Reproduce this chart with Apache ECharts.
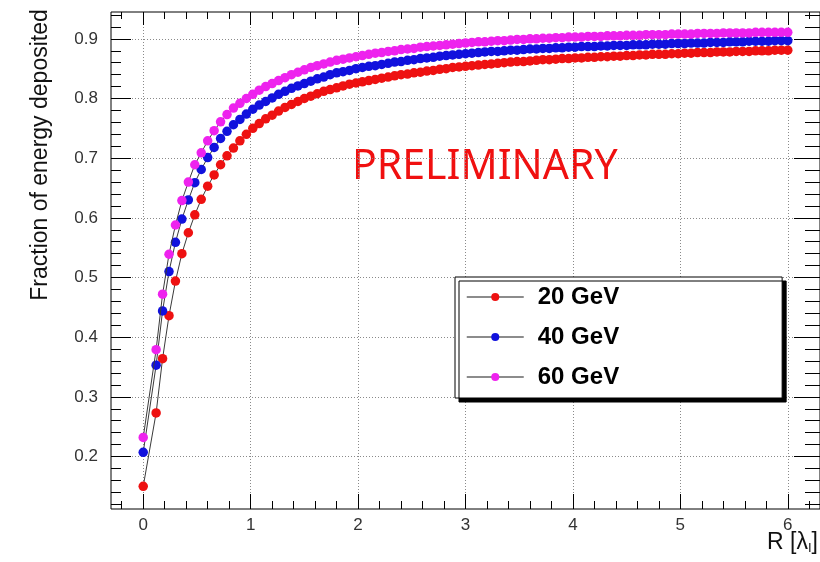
<!DOCTYPE html>
<html>
<head>
<meta charset="utf-8">
<script src="https://cdn.jsdelivr.net/npm/echarts@6/dist/echarts.min.js"></script>
<style>
  html, body { margin: 0; padding: 0; background: #fff; overflow: hidden; }
  #chart { width: 820px; height: 562px; }
</style>
</head>
<body>
<div id="chart"></div>
<script>
// Radius R in units of interaction length
const radius = [
  0.00, 0.12, 0.18, 0.24, 0.30, 0.36, 0.42, 0.48, 0.54, 0.60,
  0.66, 0.72, 0.78, 0.84, 0.90, 0.96, 1.02, 1.08, 1.14, 1.20,
  1.26, 1.32, 1.38, 1.44, 1.50, 1.56, 1.62, 1.68, 1.74, 1.80,
  1.86, 1.92, 1.98, 2.04, 2.10, 2.16, 2.22, 2.28, 2.34, 2.40,
  2.46, 2.52, 2.58, 2.64, 2.70, 2.76, 2.82, 2.88, 2.94, 3.00,
  3.06, 3.12, 3.18, 3.24, 3.30, 3.36, 3.42, 3.48, 3.54, 3.60,
  3.66, 3.72, 3.78, 3.84, 3.90, 3.96, 4.02, 4.08, 4.14, 4.20,
  4.26, 4.32, 4.38, 4.44, 4.50, 4.56, 4.62, 4.68, 4.74, 4.80,
  4.86, 4.92, 4.98, 5.04, 5.10, 5.16, 5.22, 5.28, 5.34, 5.40,
  5.46, 5.52, 5.58, 5.64, 5.70, 5.76, 5.82, 5.88, 5.94, 6.00
];

// Fraction of energy deposited within R, 20 GeV
const frac20 = [
  0.150, 0.273, 0.364, 0.436, 0.494, 0.540, 0.575, 0.605, 0.631, 0.653,
  0.672, 0.689, 0.704, 0.717, 0.729, 0.740, 0.750, 0.758, 0.766, 0.772,
  0.779, 0.785, 0.790, 0.795, 0.800, 0.804, 0.808, 0.812, 0.815, 0.818,
  0.821, 0.824, 0.826, 0.828, 0.830, 0.832, 0.834, 0.836, 0.838, 0.840,
  0.841, 0.843, 0.844, 0.846, 0.847, 0.849, 0.850, 0.852, 0.853, 0.854,
  0.855, 0.856, 0.857, 0.858, 0.859, 0.860, 0.861, 0.862, 0.862, 0.863,
  0.864, 0.865, 0.865, 0.866, 0.867, 0.867, 0.868, 0.868, 0.869, 0.869,
  0.870, 0.870, 0.871, 0.871, 0.872, 0.872, 0.873, 0.873, 0.874, 0.874,
  0.874, 0.875, 0.875, 0.876, 0.876, 0.877, 0.877, 0.877, 0.878, 0.878,
  0.878, 0.879, 0.879, 0.879, 0.880, 0.880, 0.880, 0.881, 0.881, 0.881
];

// 40 GeV
const frac40 = [
  0.207, 0.353, 0.444, 0.510, 0.559, 0.598, 0.630, 0.659, 0.681, 0.701,
  0.718, 0.733, 0.745, 0.756, 0.765, 0.774, 0.782, 0.789, 0.795, 0.801,
  0.807, 0.812, 0.817, 0.821, 0.825, 0.829, 0.833, 0.836, 0.840, 0.843,
  0.845, 0.847, 0.850, 0.852, 0.854, 0.855, 0.857, 0.859, 0.861, 0.862,
  0.864, 0.865, 0.867, 0.868, 0.869, 0.871, 0.872, 0.873, 0.874, 0.875,
  0.876, 0.877, 0.878, 0.879, 0.879, 0.880, 0.881, 0.881, 0.882, 0.883,
  0.883, 0.884, 0.884, 0.885, 0.885, 0.886, 0.886, 0.887, 0.887, 0.887,
  0.888, 0.888, 0.889, 0.889, 0.889, 0.890, 0.890, 0.890, 0.891, 0.891,
  0.891, 0.892, 0.892, 0.892, 0.893, 0.893, 0.893, 0.894, 0.894, 0.894,
  0.895, 0.895, 0.895, 0.896, 0.896, 0.896, 0.896, 0.897, 0.897, 0.897
];

// 60 GeV
const frac60 = [
  0.232, 0.379, 0.472, 0.539, 0.588, 0.629, 0.660, 0.689, 0.709, 0.729,
  0.746, 0.761, 0.773, 0.784, 0.792, 0.800, 0.807, 0.814, 0.820, 0.825,
  0.830, 0.835, 0.840, 0.844, 0.848, 0.852, 0.855, 0.858, 0.861, 0.864,
  0.866, 0.868, 0.870, 0.872, 0.874, 0.876, 0.877, 0.879, 0.880, 0.882,
  0.883, 0.884, 0.886, 0.887, 0.888, 0.889, 0.890, 0.891, 0.892, 0.893,
  0.894, 0.895, 0.895, 0.896, 0.897, 0.897, 0.898, 0.899, 0.899, 0.900,
  0.900, 0.901, 0.901, 0.902, 0.902, 0.903, 0.903, 0.903, 0.904, 0.904,
  0.904, 0.905, 0.905, 0.905, 0.906, 0.906, 0.906, 0.907, 0.907, 0.907,
  0.907, 0.908, 0.908, 0.908, 0.908, 0.909, 0.909, 0.909, 0.909, 0.910,
  0.910, 0.910, 0.910, 0.910, 0.911, 0.911, 0.911, 0.911, 0.911, 0.911
];

const seriesNames = ['20 GeV', '40 GeV', '60 GeV'];
const seriesColors = ['#ee1111', '#1111dd', '#ee22ee'];

// Axis tick positions
const xMajorTicks = [0, 1, 2, 3, 4, 5, 6];
const xMinorTicks = [-0.2, 0.2, 0.4, 0.6, 0.8, 1.2, 1.4, 1.6, 1.8, 2.2, 2.4, 2.6, 2.8,
  3.2, 3.4, 3.6, 3.8, 4.2, 4.4, 4.6, 4.8, 5.2, 5.4, 5.6, 5.8, 6.2];
const yMajorTicks = [0.2, 0.3, 0.4, 0.5, 0.6, 0.7, 0.8, 0.9];
const yMinorTicks = [0.12, 0.14, 0.16, 0.18, 0.22, 0.24, 0.26, 0.28, 0.32, 0.34, 0.36, 0.38,
  0.42, 0.44, 0.46, 0.48, 0.52, 0.54, 0.56, 0.58, 0.62, 0.64, 0.66, 0.68,
  0.72, 0.74, 0.76, 0.78, 0.82, 0.84, 0.86, 0.88, 0.92, 0.94];

const X_MIN = -0.3, X_MAX = 6.3;
const Y_MIN = 0.112, Y_MAX = 0.945;

const FONT = '"Liberation Sans", Arial, Helvetica, sans-serif';
const gridLine = { show: true, lineStyle: { color: '#8a8a8a', width: 1, type: [1, 2] } };

function xAxisDef(position, ticks, len, withLabels, withGrid) {
  return {
    type: 'value', position: position, offset: 0, min: X_MIN, max: X_MAX,
    axisLine: { show: false, onZero: false },
    axisTick: { show: true, inside: true, length: len, customValues: ticks,
      lineStyle: { color: '#000', width: 1 } },
    axisLabel: withLabels ? { show: true, customValues: ticks, margin: 8,
      fontSize: 17, fontFamily: FONT, color: '#333', formatter: v => String(v) } : { show: false },
    splitLine: withGrid ? gridLine : { show: false }
  };
}
function yAxisDef(position, ticks, len, withLabels, withGrid) {
  return {
    type: 'value', position: position, offset: 0, min: Y_MIN, max: Y_MAX,
    axisLine: { show: false, onZero: false },
    axisTick: { show: true, inside: true, length: len, customValues: ticks,
      lineStyle: { color: '#000', width: 1 } },
    axisLabel: withLabels ? { show: true, customValues: ticks, margin: 13,
      fontSize: 17, fontFamily: FONT, color: '#333', formatter: v => v.toFixed(1) } : { show: false },
    splitLine: withGrid ? gridLine : { show: false }
  };
}

const chart = echarts.init(document.getElementById('chart'), null, { renderer: 'canvas' });

const series = seriesNames.map((name, i) => ({
  name: name,
  type: 'line',
  xAxisIndex: 0,
  yAxisIndex: 0,
  data: radius.map((r, k) => [r, [frac20, frac40, frac60][i][k]]),
  symbol: 'circle',
  symbolSize: 9.5,
  showAllSymbol: true,
  itemStyle: { color: seriesColors[i] },
  lineStyle: { color: '#3a3a3a', width: 1 },
  animation: false,
  z: 3 + i
}));

chart.setOption({
  animation: false,
  backgroundColor: '#fff',
  // the frame's right edge sits just past the canvas edge
  grid: {
    left: 111, top: 12, width: 712, height: 497,
    show: true, borderColor: '#000', borderWidth: 1, backgroundColor: 'transparent'
  },
  xAxis: [
    xAxisDef('bottom', xMajorTicks, 15, true, true),
    xAxisDef('bottom', xMinorTicks, 8, false, false),
    xAxisDef('top', xMajorTicks, 13, false, false),
    xAxisDef('top', xMinorTicks, 7, false, false)
  ],
  yAxis: [
    yAxisDef('left', yMajorTicks, 20, true, true),
    yAxisDef('left', yMinorTicks, 10, false, false),
    yAxisDef('right', yMajorTicks, 26, false, false),
    yAxisDef('right', yMinorTicks, 15, false, false)
  ],
  legend: {
    orient: 'vertical',
    left: 455, top: 277,
    data: seriesNames,
    selectedMode: false,
    itemWidth: 57, itemHeight: 10, itemGap: 16,
    padding: [8, 163, 9, 11],
    backgroundColor: '#fff',
    borderColor: '#000', borderWidth: 1,
    shadowColor: '#000', shadowBlur: 0, shadowOffsetX: 4, shadowOffsetY: 4,
    lineStyle: { color: '#666', width: 1.5 },
    textStyle: { fontSize: 24, fontWeight: 'bold', fontFamily: FONT, color: '#000',
      lineHeight: 24, padding: [0, 0, 0, 9] }
  },
  graphic: [
    {
      type: 'text', left: 352, top: 147, silent: true,
      style: { text: 'PRELIMINARY', fill: '#f01010', fontSize: 41,
        fontFamily: '"Noto Sans", sans-serif', fontWeight: 'normal' }
    },
    {
      type: 'text', x: 41, y: 155, rotation: Math.PI / 2, silent: true,
      style: { text: 'Fraction of energy deposited', fill: '#111', fontSize: 23,
        fontFamily: FONT, align: 'center', verticalAlign: 'middle' }
    },
    {
      type: 'text', right: 2, top: 531, silent: true,
      style: {
        text: '{a|R [λ}{b|I}{a|]}', fill: '#111',
        rich: {
          a: { fontSize: 23, fontFamily: FONT, fill: '#111' },
          b: { fontSize: 13, fontFamily: FONT, fill: '#111', padding: [12, 0, 0, 0] }
        }
      }
    }
  ],
  series: series
});
</script>
</body>
</html>
